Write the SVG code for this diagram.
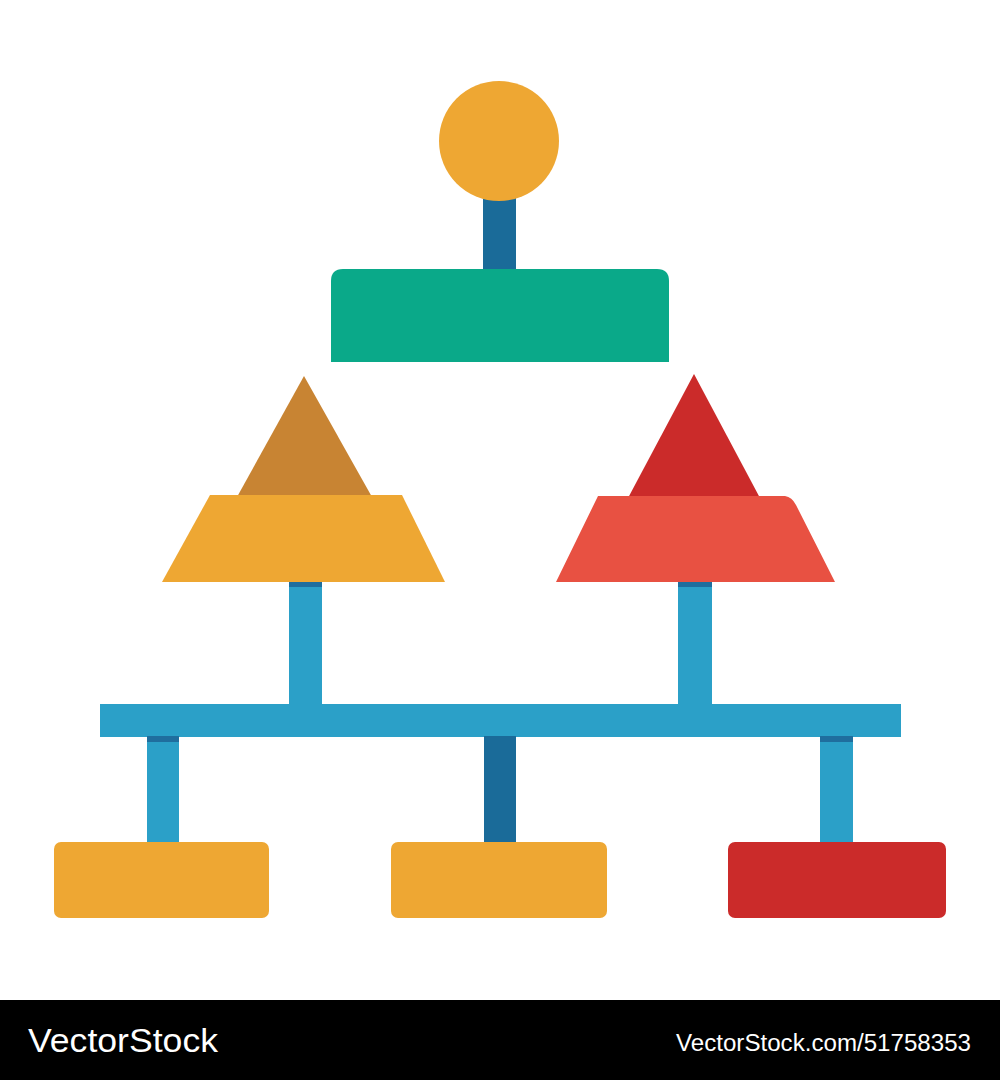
<svg xmlns="http://www.w3.org/2000/svg" width="1000" height="1080" viewBox="0 0 1000 1080">
<style>
.conn{fill:#2ba0c8}
.band{fill:#1f6e9e}
.dark{fill:#1a6b99}
.orange{fill:#eea733}
.red{fill:#cb2b2a}
.wm{font-family:"Liberation Sans",Arial,sans-serif;fill:#fff}
</style>
<rect width="1000" height="1080" fill="#fff"/>
<g id="connectors">
<rect class="dark" x="483" y="195" width="33" height="76"/>
<rect class="conn" x="289" y="580" width="33" height="126"/>
<rect class="band" x="289" y="580" width="33" height="7"/>
<rect class="conn" x="678" y="580" width="34" height="126"/>
<rect class="band" x="678" y="580" width="34" height="7"/>
<rect class="conn" x="100" y="704" width="801" height="33"/>
<rect class="conn" x="147" y="736" width="32" height="107"/>
<rect class="band" x="147" y="736" width="32" height="6"/>
<rect class="dark" x="484" y="736" width="32" height="107"/>
<rect class="conn" x="820" y="736" width="33" height="107"/>
<rect class="band" x="820" y="736" width="33" height="6"/>
</g>
<g id="root">
<circle cx="499" cy="141" r="60" fill="#eea733"/>
</g>
<g id="green-box">
<path d="M331,281 Q331,269 343,269 L657,269 Q669,269 669,281 L669,362 L331,362 Z" fill="#0aa989"/>
</g>
<g id="left-pyramid">
<polygon points="304,376 372,497 237,497" fill="#c88433"/>
<polygon points="210,495 402,495 445,582 162,582" fill="#eea733"/>
</g>
<g id="right-pyramid">
<polygon points="694,374 760,498 628,498" fill="#cb2b2a"/>
<path d="M598,496 L785,496 Q792,497 796,505 L835,582 L556,582 Z" fill="#e85142"/>
</g>
<g id="box-left">
<rect class="orange" x="54" y="842" width="215" height="76" rx="7"/>
</g>
<g id="box-middle">
<rect class="orange" x="391" y="842" width="216" height="76" rx="7"/>
</g>
<g id="box-right">
<rect class="red" x="728" y="842" width="218" height="76" rx="7"/>
</g>
<g id="watermark">
<rect x="0" y="1000" width="1000" height="80" fill="#000"/>
<text class="wm" x="28" y="1052" font-size="34" textLength="190" lengthAdjust="spacingAndGlyphs">VectorStock</text>
<text class="wm" x="676" y="1051" font-size="23" textLength="295" lengthAdjust="spacingAndGlyphs">VectorStock.com/51758353</text>
</g>
</svg>
